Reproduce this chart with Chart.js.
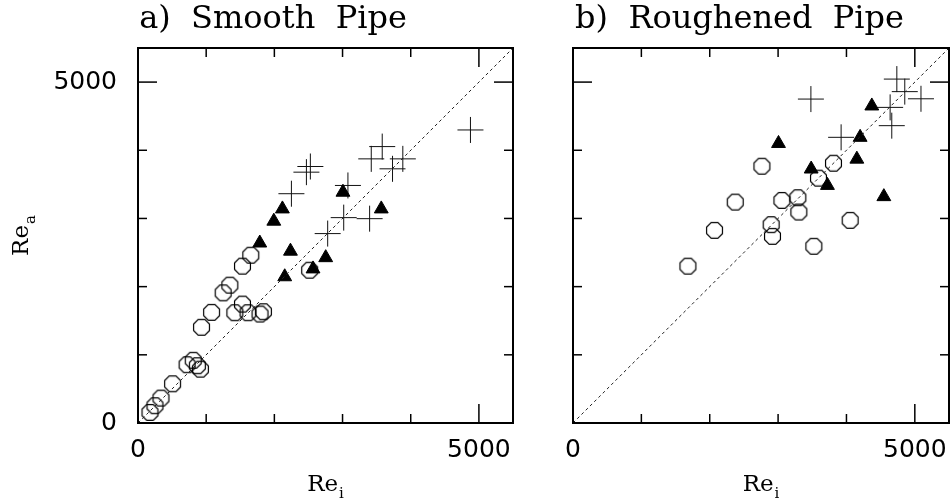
<!DOCTYPE html>
<html>
<head>
<meta charset="utf-8">
<script src="https://cdn.jsdelivr.net/npm/chart.js@4"></script>
<style>
    body { margin: 0; background: #fff; }
    #wrap { position: relative; width: 951px; height: 504px; }
    #smoothChart { position: absolute; left: 0; top: 0; }
    #roughChart { position: absolute; left: 520px; top: 0; }
</style>
</head>
<body>
<div id="wrap">
    <canvas id="smoothChart" width="520" height="504"></canvas>
    <canvas id="roughChart" width="431" height="504"></canvas>
</div>
<script>
const axisMin = 0;
const axisMax = 5500;
const tickValues = [0, 1000, 2000, 3000, 4000, 5000];
const labeledTicks = [0, 5000];
const diagonal = [0, 5500];

// a) Smooth Pipe
const smoothCircleX = [176, 249, 337, 507, 720, 810, 870, 915, 932, 1079, 1249, 1347, 1420, 1532, 1614, 1790, 1839, 1532, 1654, 2518];
const smoothCircleY = [155, 253, 365, 575, 855, 920, 840, 790, 1404, 1623, 1909, 2022, 1617, 1744, 1617, 1598, 1632, 2300, 2461, 2241];
const smoothTriangleX = [1786, 1992, 2118, 2236, 2152, 2567, 2753, 3006, 3568];
const smoothTriangleY = [2640, 2960, 3140, 2520, 2145, 2260, 2425, 3385, 3140];
const smoothCrossX = [2250, 2470, 2528, 3079, 3017, 2782, 3397, 3421, 3582, 3733, 3884, 4876];
const smoothCrossY = [3363, 3679, 3762, 3484, 3012, 2778, 2997, 3874, 4054, 3728, 3874, 4298];

// b) Roughened Pipe
const roughCircleX = [1681, 2070, 2373, 2763, 2899, 2918, 3056, 3289, 3304, 3523, 3591, 3810, 4054];
const roughCircleY = [2300, 2826, 3240, 3766, 2909, 2738, 3265, 3304, 3094, 2592, 3591, 3810, 2972];
const roughTriangleX = [3006, 3484, 3722, 4152, 4200, 4371, 4547];
const roughTriangleY = [4100, 3725, 3485, 3870, 4190, 4650, 3320];
const roughCrossX = [3480, 3922, 4663, 4639, 4737, 4853, 5090];
const roughCrossY = [4751, 4190, 4361, 4629, 5044, 4860, 4755];

function toPoints(xs, ys) {
    return xs.map((x, i) => ({ x: x, y: ys[i] }));
}

// PGPLOT style open circle (octagon)
function makeOctagon(r) {
    const size = Math.ceil(2 * r + 3);
    const c = document.createElement('canvas');
    c.width = size;
    c.height = size;
    const g = c.getContext('2d');
    g.strokeStyle = '#000';
    g.lineWidth = 1.2;
    g.beginPath();
    for (let k = 0; k < 8; k++) {
        const ang = Math.PI / 8 + k * Math.PI / 4;
        const px = size / 2 + r * Math.cos(ang);
        const py = size / 2 + r * Math.sin(ang);
        if (k === 0) g.moveTo(px, py); else g.lineTo(px, py);
    }
    g.closePath();
    g.stroke();
    return c;
}
const octagon = makeOctagon(8.6);

// frame with inward ticks on all four sides
const framePlugin = {
    id: 'frame',
    afterDatasetsDraw(chart) {
        const { ctx, chartArea: a, scales } = chart;
        const line = (x1, y1, x2, y2) => {
            ctx.beginPath(); ctx.moveTo(x1, y1); ctx.lineTo(x2, y2); ctx.stroke();
        };
        ctx.save();
        ctx.strokeStyle = '#000';
        ctx.lineWidth = 1.5;
        scales.x.ticks.forEach(t => {
            const px = scales.x.getPixelForValue(t.value);
            const len = labeledTicks.includes(t.value) ? 19 : 9;
            line(px, a.bottom, px, a.bottom - len);
            line(px, a.top, px, a.top + len);
        });
        scales.y.ticks.forEach(t => {
            const py = scales.y.getPixelForValue(t.value);
            const len = labeledTicks.includes(t.value) ? 19 : 9;
            line(a.left, py, a.left + len, py);
            line(a.right, py, a.right - len, py);
        });
        ctx.lineWidth = 2;
        ctx.strokeRect(a.left, a.top, a.right - a.left, a.bottom - a.top);
        ctx.restore();
    }
};

// "Re" axis titles with subscripts
const reTitlePlugin = {
    id: 'reTitles',
    afterDraw(chart, args, opts) {
        const { ctx, chartArea: a } = chart;
        const mainFont = '23px "DejaVu Serif"';
        const subFont = '15px "DejaVu Serif"';
        const draw = (sub) => {
            ctx.font = mainFont;
            const w1 = ctx.measureText('Re').width;
            ctx.font = subFont;
            const w2 = ctx.measureText(sub).width;
            const start = -(w1 + w2 + 1) / 2;
            ctx.font = mainFont;
            ctx.fillText('Re', start, 0);
            ctx.font = subFont;
            ctx.fillText(sub, start + w1 + 1, 7);
        };
        ctx.save();
        ctx.fillStyle = '#000';
        ctx.textBaseline = 'alphabetic';
        ctx.textAlign = 'left';
        ctx.save();
        ctx.translate((a.left + a.right) / 2, 491);
        draw(opts.xSub);
        ctx.restore();
        if (opts.ySub) {
            ctx.save();
            ctx.translate(28, (a.top + a.bottom) / 2);
            ctx.rotate(-Math.PI / 2);
            draw(opts.ySub);
            ctx.restore();
        }
        ctx.restore();
    }
};

function setTicks(scale) {
    scale.ticks = tickValues.map(v => ({ value: v }));
}

function makeChart(id, title, circles, triangles, crosses, cfg) {
    const tickLabel = v => labeledTicks.includes(v) ? String(v) : '';
    new Chart(document.getElementById(id), {
        type: 'scatter',
        data: {
            datasets: [
                {
                    type: 'line',
                    data: toPoints(diagonal, diagonal),
                    borderColor: '#222',
                    borderWidth: 1,
                    borderDash: [3, 3],
                    pointRadius: 0,
                    fill: false
                },
                {
                    data: circles,
                    pointStyle: octagon,
                    pointRadius: 9
                },
                {
                    data: triangles,
                    pointStyle: 'triangle',
                    pointRadius: 8,
                    backgroundColor: '#000',
                    borderColor: '#000',
                    borderWidth: 1
                },
                {
                    data: crosses,
                    pointStyle: 'cross',
                    pointRadius: 13,
                    borderColor: '#111',
                    borderWidth: 1
                }
            ]
        },
        options: {
            responsive: false,
            animation: false,
            events: [],
            layout: {
                autoPadding: false,
                padding: { left: cfg.padLeft, right: cfg.padRight, top: 0, bottom: 0 }
            },
            plugins: {
                legend: { display: false },
                tooltip: { enabled: false },
                title: {
                    display: true,
                    text: title,
                    color: '#000',
                    font: { family: '"DejaVu Serif"', size: 32, weight: 'normal', lineHeight: 1.125 },
                    padding: { top: 2, bottom: 10 }
                },
                reTitles: { xSub: 'i', ySub: cfg.ySub }
            },
            scales: {
                x: {
                    min: axisMin,
                    max: axisMax,
                    grid: { display: false },
                    border: { display: false },
                    afterBuildTicks: setTicks,
                    ticks: {
                        autoSkip: false,
                        maxRotation: 0,
                        padding: 4,
                        color: '#000',
                        font: { family: '"DejaVu Sans"', size: 25 },
                        callback: tickLabel
                    },
                    afterFit: s => {
                        s.height = 81;
                        s.paddingLeft = 0;
                        s.paddingRight = 0;
                    }
                },
                y: {
                    min: axisMin,
                    max: axisMax,
                    grid: { display: false },
                    border: { display: false },
                    afterBuildTicks: setTicks,
                    ticks: {
                        autoSkip: false,
                        padding: 13,
                        color: '#000',
                        font: { family: '"DejaVu Sans"', size: 25 },
                        callback: v => cfg.yLabels ? tickLabel(v) : ''
                    },
                    afterFit: s => {
                        s.width = cfg.yWidth;
                        s.paddingTop = 0;
                        s.paddingBottom = 0;
                    }
                }
            }
        },
        plugins: [framePlugin, reTitlePlugin]
    });
}

makeChart('smoothChart', 'a)  Smooth  Pipe',
    toPoints(smoothCircleX, smoothCircleY),
    toPoints(smoothTriangleX, smoothTriangleY),
    toPoints(smoothCrossX, smoothCrossY),
    { padLeft: 33, padRight: 7, yWidth: 105, yLabels: true, ySub: 'a' });

makeChart('roughChart', 'b)  Roughened  Pipe',
    toPoints(roughCircleX, roughCircleY),
    toPoints(roughTriangleX, roughTriangleY),
    toPoints(roughCrossX, roughCrossY),
    { padLeft: 10, padRight: 2, yWidth: 43, yLabels: false, ySub: null });
</script>
</body>
</html>
